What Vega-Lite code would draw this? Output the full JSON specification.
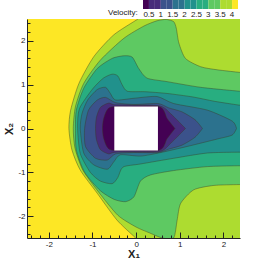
{"$schema":"https://vega.github.io/schema/vega-lite/v6.json","width":213,"height":219,"autosize":"none","padding":{"left":27,"top":19,"right":17,"bottom":28},
"config":{"view":{"stroke":null},"font":"Liberation Sans"},
"datasets":{"c":[
{"l":"a","v":4.25,"x":-2.6,"y":-2.6},{"l":"a","v":4.25,"x":2.6,"y":-2.6},{"l":"a","v":4.25,"x":2.6,"y":2.6},{"l":"a","v":4.25,"x":-2.6,"y":2.6},
{"l":"b","v":3.75,"x":0.14,"y":2.6},{"l":"b","v":3.75,"x":0.04,"y":2.5},{"l":"b","v":3.75,"x":-0.51,"y":2.14},{"l":"b","v":3.75,"x":-0.97,"y":1.64},{"l":"b","v":3.75,"x":-1.31,"y":1.03},{"l":"b","v":3.75,"x":-1.5,"y":0.42},{"l":"b","v":3.75,"x":-1.54,"y":0},{"l":"b","v":3.75,"x":-1.47,"y":-0.49},{"l":"b","v":3.75,"x":-1.28,"y":-0.95},{"l":"b","v":3.75,"x":-0.89,"y":-1.48},{"l":"b","v":3.75,"x":-0.44,"y":-2.09},{"l":"b","v":3.75,"x":-0.02,"y":-2.49},{"l":"b","v":3.75,"x":0.1,"y":-2.6},{"l":"b","v":3.75,"x":2.6,"y":-2.6},{"l":"b","v":3.75,"x":2.6,"y":2.6},
{"l":"c","v":3.25,"x":2.38,"y":1.28},{"l":"c","v":3.25,"x":1.86,"y":1.34},{"l":"c","v":3.25,"x":1.48,"y":1.41},{"l":"c","v":3.25,"x":1.13,"y":1.6},{"l":"c","v":3.25,"x":0.98,"y":1.95},{"l":"c","v":3.25,"x":0.92,"y":2.29},{"l":"c","v":3.25,"x":0.86,"y":2.44},{"l":"c","v":3.25,"x":0.69,"y":2.49},{"l":"c","v":3.25,"x":0.48,"y":2.46},{"l":"c","v":3.25,"x":0.18,"y":2.34},{"l":"c","v":3.25,"x":-0.28,"y":2.06},{"l":"c","v":3.25,"x":-0.82,"y":1.56},{"l":"c","v":3.25,"x":-1.2,"y":1.03},{"l":"c","v":3.25,"x":-1.39,"y":0.5},{"l":"c","v":3.25,"x":-1.44,"y":0},{"l":"c","v":3.25,"x":-1.4,"y":-0.45},{"l":"c","v":3.25,"x":-1.22,"y":-0.95},{"l":"c","v":3.25,"x":-0.86,"y":-1.45},{"l":"c","v":3.25,"x":-0.42,"y":-1.98},{"l":"c","v":3.25,"x":0,"y":-2.25},{"l":"c","v":3.25,"x":0.3,"y":-2.38},{"l":"c","v":3.25,"x":0.6,"y":-2.5},{"l":"c","v":3.25,"x":0.86,"y":-2.5},{"l":"c","v":3.25,"x":0.94,"y":-2.09},{"l":"c","v":3.25,"x":1.02,"y":-1.71},{"l":"c","v":3.25,"x":1.32,"y":-1.4},{"l":"c","v":3.25,"x":1.78,"y":-1.3},{"l":"c","v":3.25,"x":2.38,"y":-1.28},
{"l":"d","v":2.75,"x":2.38,"y":0.85},{"l":"d","v":2.75,"x":1.48,"y":0.94},{"l":"d","v":2.75,"x":0.71,"y":1.07},{"l":"d","v":2.75,"x":0.25,"y":1.15},{"l":"d","v":2.75,"x":0.06,"y":1.37},{"l":"d","v":2.75,"x":-0.09,"y":1.63},{"l":"d","v":2.75,"x":-0.28,"y":1.66},{"l":"d","v":2.75,"x":-0.55,"y":1.6},{"l":"d","v":2.75,"x":-0.89,"y":1.37},{"l":"d","v":2.75,"x":-1.2,"y":0.92},{"l":"d","v":2.75,"x":-1.37,"y":0.42},{"l":"d","v":2.75,"x":-1.39,"y":0},{"l":"d","v":2.75,"x":-1.37,"y":-0.49},{"l":"d","v":2.75,"x":-1.18,"y":-1},{"l":"d","v":2.75,"x":-0.82,"y":-1.42},{"l":"d","v":2.75,"x":-0.5,"y":-1.62},{"l":"d","v":2.75,"x":-0.24,"y":-1.67},{"l":"d","v":2.75,"x":-0.05,"y":-1.56},{"l":"d","v":2.75,"x":0.1,"y":-1.2},{"l":"d","v":2.75,"x":0.33,"y":-1.06},{"l":"d","v":2.75,"x":0.86,"y":-0.96},{"l":"d","v":2.75,"x":1.63,"y":-0.87},{"l":"d","v":2.75,"x":2.38,"y":-0.85},
{"l":"e","v":2.25,"x":2.38,"y":0.53},{"l":"e","v":2.25,"x":1.8,"y":0.62},{"l":"e","v":2.25,"x":1.3,"y":0.72},{"l":"e","v":2.25,"x":0.71,"y":0.8},{"l":"e","v":2.25,"x":0.2,"y":0.84},{"l":"e","v":2.25,"x":-0.2,"y":0.85},{"l":"e","v":2.25,"x":-0.32,"y":1},{"l":"e","v":2.25,"x":-0.42,"y":1.2},{"l":"e","v":2.25,"x":-0.55,"y":1.24},{"l":"e","v":2.25,"x":-0.75,"y":1.15},{"l":"e","v":2.25,"x":-1,"y":0.9},{"l":"e","v":2.25,"x":-1.3,"y":0.45},{"l":"e","v":2.25,"x":-1.34,"y":0},{"l":"e","v":2.25,"x":-1.28,"y":-0.57},{"l":"e","v":2.25,"x":-1.05,"y":-1},{"l":"e","v":2.25,"x":-0.82,"y":-1.2},{"l":"e","v":2.25,"x":-0.55,"y":-1.26},{"l":"e","v":2.25,"x":-0.42,"y":-1.12},{"l":"e","v":2.25,"x":-0.3,"y":-0.88},{"l":"e","v":2.25,"x":0.1,"y":-0.81},{"l":"e","v":2.25,"x":0.86,"y":-0.68},{"l":"e","v":2.25,"x":1.63,"y":-0.56},{"l":"e","v":2.25,"x":2.38,"y":-0.54},
{"l":"f","v":1.75,"x":2.3,"y":0},{"l":"f","v":1.75,"x":2.2,"y":0.17},{"l":"f","v":1.75,"x":1.63,"y":0.42},{"l":"f","v":1.75,"x":0.86,"y":0.57},{"l":"f","v":1.75,"x":0.48,"y":0.73},{"l":"f","v":1.75,"x":-0.05,"y":0.69},{"l":"f","v":1.75,"x":-0.47,"y":0.65},{"l":"f","v":1.75,"x":-0.59,"y":0.8},{"l":"f","v":1.75,"x":-0.7,"y":0.94},{"l":"f","v":1.75,"x":-0.89,"y":0.89},{"l":"f","v":1.75,"x":-1.11,"y":0.65},{"l":"f","v":1.75,"x":-1.24,"y":0.34},{"l":"f","v":1.75,"x":-1.28,"y":0},{"l":"f","v":1.75,"x":-1.2,"y":-0.56},{"l":"f","v":1.75,"x":-0.97,"y":-0.83},{"l":"f","v":1.75,"x":-0.66,"y":-0.93},{"l":"f","v":1.75,"x":-0.51,"y":-0.76},{"l":"f","v":1.75,"x":-0.36,"y":-0.6},{"l":"f","v":1.75,"x":0.1,"y":-0.63},{"l":"f","v":1.75,"x":0.56,"y":-0.55},{"l":"f","v":1.75,"x":1.17,"y":-0.41},{"l":"f","v":1.75,"x":1.86,"y":-0.24},{"l":"f","v":1.75,"x":2.2,"y":-0.15},{"l":"f","v":1.75,"x":2.3,"y":0},
{"l":"g","v":1.25,"x":1.52,"y":0},{"l":"g","v":1.25,"x":1.35,"y":0.2},{"l":"g","v":1.25,"x":1.05,"y":0.38},{"l":"g","v":1.25,"x":0.75,"y":0.47},{"l":"g","v":1.25,"x":0.5,"y":0.57},{"l":"g","v":1.25,"x":-0.05,"y":0.55},{"l":"g","v":1.25,"x":-0.47,"y":0.59},{"l":"g","v":1.25,"x":-0.7,"y":0.71},{"l":"g","v":1.25,"x":-0.89,"y":0.65},{"l":"g","v":1.25,"x":-1.09,"y":0.42},{"l":"g","v":1.25,"x":-1.18,"y":0},{"l":"g","v":1.25,"x":-1.16,"y":-0.41},{"l":"g","v":1.25,"x":-0.93,"y":-0.68},{"l":"g","v":1.25,"x":-0.66,"y":-0.72},{"l":"g","v":1.25,"x":-0.47,"y":-0.58},{"l":"g","v":1.25,"x":-0.05,"y":-0.55},{"l":"g","v":1.25,"x":0.5,"y":-0.55},{"l":"g","v":1.25,"x":0.75,"y":-0.47},{"l":"g","v":1.25,"x":1.05,"y":-0.38},{"l":"g","v":1.25,"x":1.35,"y":-0.2},{"l":"g","v":1.25,"x":1.52,"y":0},
{"l":"h","v":0.75,"x":1.13,"y":0},{"l":"h","v":0.75,"x":0.8,"y":0.33},{"l":"h","v":0.75,"x":0.52,"y":0.52},{"l":"h","v":0.75,"x":-0.45,"y":0.54},{"l":"h","v":0.75,"x":-0.63,"y":0.58},{"l":"h","v":0.75,"x":-0.82,"y":0.48},{"l":"h","v":0.75,"x":-0.91,"y":0.25},{"l":"h","v":0.75,"x":-0.93,"y":0},{"l":"h","v":0.75,"x":-0.91,"y":-0.25},{"l":"h","v":0.75,"x":-0.82,"y":-0.48},{"l":"h","v":0.75,"x":-0.63,"y":-0.58},{"l":"h","v":0.75,"x":-0.45,"y":-0.54},{"l":"h","v":0.75,"x":0.52,"y":-0.53},{"l":"h","v":0.75,"x":0.8,"y":-0.33},{"l":"h","v":0.75,"x":1.13,"y":0},
{"l":"i","v":0.25,"x":0.89,"y":0},{"l":"i","v":0.25,"x":0.71,"y":0.23},{"l":"i","v":0.25,"x":0.52,"y":0.5},{"l":"i","v":0.25,"x":-0.49,"y":0.5},{"l":"i","v":0.25,"x":-0.665,"y":0.42},{"l":"i","v":0.25,"x":-0.75,"y":0.2},{"l":"i","v":0.25,"x":-0.77,"y":0},{"l":"i","v":0.25,"x":-0.75,"y":-0.2},{"l":"i","v":0.25,"x":-0.665,"y":-0.42},{"l":"i","v":0.25,"x":-0.49,"y":-0.5},{"l":"i","v":0.25,"x":0.52,"y":-0.5},{"l":"i","v":0.25,"x":0.71,"y":-0.23},{"l":"i","v":0.25,"x":0.89,"y":0}
],"s":[{"x":-0.5,"x2":0.5,"y":-0.5,"y2":0.5}]},
"layer":[
{"data":{"name":"c"},"transform":[{"window":[{"op":"row_number","as":"i"}]}],
"mark":{"type":"line","clip":true,"stroke":"#3a3a20","strokeWidth":0.6,"strokeOpacity":0.7,"interpolate":"cardinal","tension":0.3},
"encoding":{
"x":{"field":"x","type":"quantitative","scale":{"domain":[-2.5,2.38],"nice":false,"zero":false},"axis":{"orient":"bottom","zindex":1,"values":[-2,-1,0,1,2],"labelExpr":"''+datum.value","grid":false,"tickSize":-6,"tickColor":"#222","domainColor":"#222","labelFontSize":8,"labelColor":"#222","labelPadding":8,"title":"X₁","titleFontSize":11,"titleFontWeight":"bold","titleColor":"#222","titlePadding":0}},
"y":{"field":"y","type":"quantitative","scale":{"domain":[-2.5,2.5],"nice":false,"zero":false},"axis":{"orient":"left","zindex":1,"values":[-2,-1,0,1,2],"labelExpr":"''+datum.value","grid":false,"tickSize":-6,"tickColor":"#222","domainColor":"#222","labelFontSize":8,"labelColor":"#222","labelPadding":8,"title":"X₂","titleFontSize":11,"titleFontWeight":"bold","titleColor":"#222","titlePadding":3}},
"order":{"field":"i","type":"quantitative"},
"detail":{"field":"l","type":"nominal"},
"fill":{"field":"v","type":"quantitative","scale":{"type":"threshold","domain":[0.5,0.75,1,1.25,1.5,1.75,2,2.25,2.5,2.75,3,3.25,3.5,3.75,4],"range":["#440154","#472d7b","#472d7b","#3b528b","#3b528b","#2c728e","#2c728e","#21918c","#21918c","#28ae80","#28ae80","#5ec962","#5ec962","#addc30","#addc30","#fde725"]},"legend":{"type":"gradient","orient":"none","legendX":81,"legendY":-19,"direction":"horizontal","gradientLength":95,"gradientThickness":9,"title":[" ","Velocity:"],"titleLineHeight":16,"titleOrient":"left","titleFontSize":8,"titleFontWeight":"normal","titleColor":"#222","labelFontSize":8,"labelColor":"#222","labelOffset":2,"labelOverlap":false,"labelExpr":"datum.value*2%1==0 ? ''+datum.value : ''"}}
}},
{"data":{"name":"s"},"mark":{"type":"rect","fill":"white"},
"encoding":{"x":{"field":"x","type":"quantitative","axis":{"orient":"bottom","zindex":1,"values":[-2.4,-2.2,-1.8,-1.6,-1.4,-1.2,-0.8,-0.6,-0.4,-0.2,0.2,0.4,0.6,0.8,1.2,1.4,1.6,1.8,2.2],"labels":false,"domain":false,"grid":false,"tickSize":-3,"tickColor":"#222","title":null}},"x2":{"field":"x2"},
"y":{"field":"y","type":"quantitative","axis":{"orient":"left","zindex":1,"values":[-2.4,-2.2,-1.8,-1.6,-1.4,-1.2,-0.8,-0.6,-0.4,-0.2,0.2,0.4,0.6,0.8,1.2,1.4,1.6,1.8,2.2,2.4],"labels":false,"domain":false,"grid":false,"tickSize":-3,"tickColor":"#222","title":null}},"y2":{"field":"y2"}}}
],
"resolve":{"axis":{"x":"independent","y":"independent"}}
}
